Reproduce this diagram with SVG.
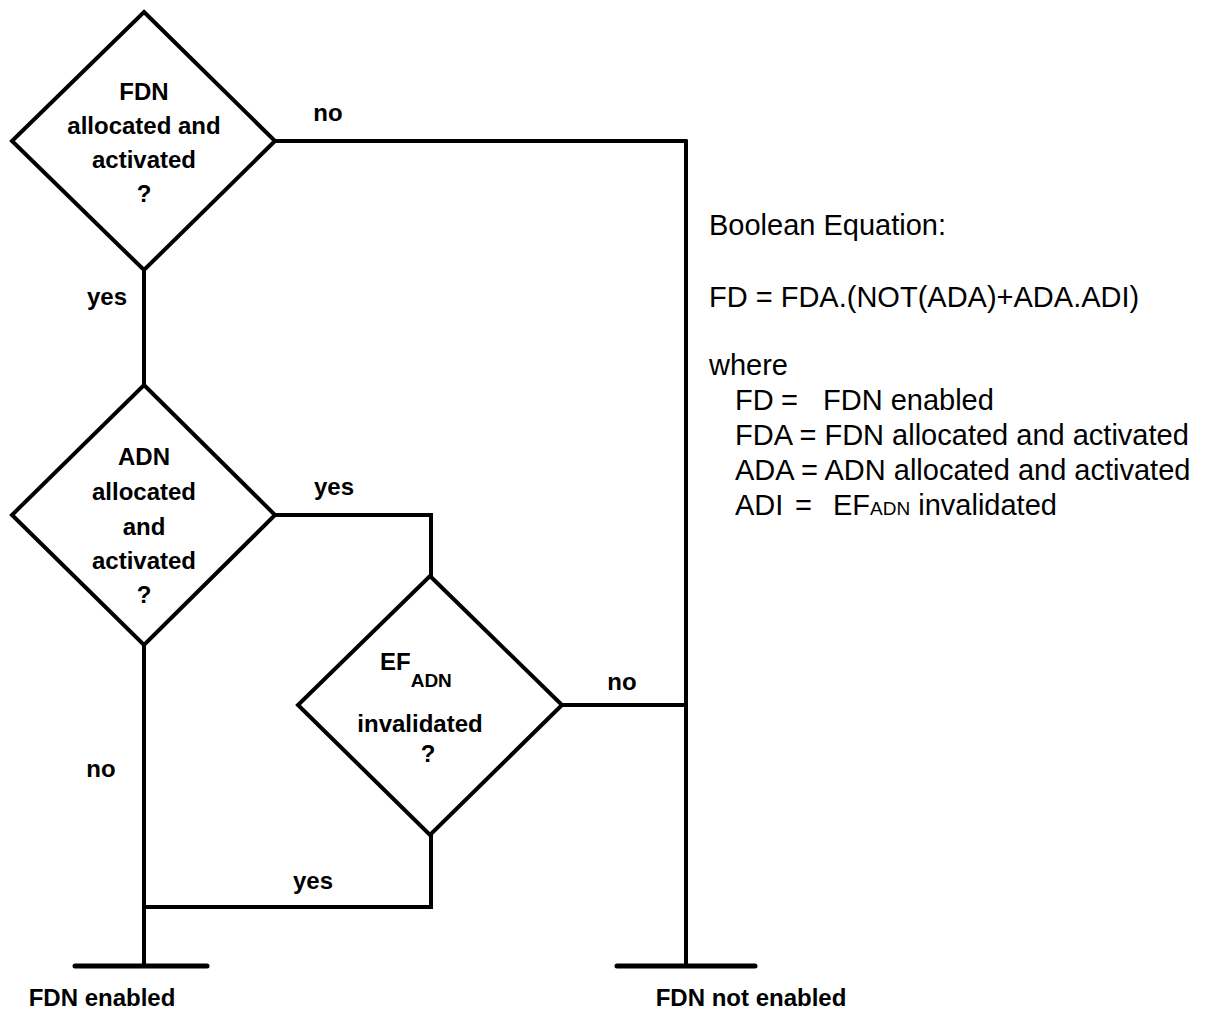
<svg xmlns="http://www.w3.org/2000/svg" width="1206" height="1012" viewBox="0 0 1206 1012">
<style>
.shape{fill:#fff;stroke:#000;stroke-width:4;stroke-linejoin:miter}
.conn{fill:none;stroke:#000;stroke-width:4;stroke-linecap:round;stroke-linejoin:miter}
.b{font-family:"Liberation Sans",Arial,sans-serif;font-weight:bold;font-size:24px;fill:#000;text-anchor:middle}
.n{font-family:"Liberation Sans",Arial,sans-serif;font-size:29px;fill:#000}
</style>
<rect width="1206" height="1012" fill="#fff"/>
<g id="connectors">
<polyline class="conn" points="275,141 686,141"/>
<polyline class="conn" points="686,141 686,966"/>
<polyline class="conn" points="144,270 144,385"/>
<polyline class="conn" points="275,515 431,515 431,577"/>
<polyline class="conn" points="563,705 686,705"/>
<polyline class="conn" points="144,645 144,966"/>
<polyline class="conn" points="431,835 431,907 144,907"/>
<polyline class="conn" points="75,966 207,966" style="stroke-width:5"/>
<polyline class="conn" points="617,966 755,966" style="stroke-width:5"/>
<text class="b" x="328" y="121">no</text>
<text class="b" x="107" y="305">yes</text>
<text class="b" x="334" y="495">yes</text>
<text class="b" x="622" y="690">no</text>
<text class="b" x="101" y="777">no</text>
<text class="b" x="313" y="889">yes</text>
</g>
<g id="d1">
<polygon class="shape" points="144,12 275,141 144,270 12,141"/>
<text class="b" x="144" y="100">FDN</text>
<text class="b" x="144" y="134">allocated and</text>
<text class="b" x="144" y="168">activated</text>
<text class="b" x="144" y="202">?</text>
</g>
<g id="d2">
<polygon class="shape" points="144,385 275,515 144,645 12,515"/>
<text class="b" x="144" y="465">ADN</text>
<text class="b" x="144" y="500">allocated</text>
<text class="b" x="144" y="535">and</text>
<text class="b" x="144" y="569">activated</text>
<text class="b" x="144" y="603">?</text>
</g>
<g id="d3">
<polygon class="shape" points="430,576 562,705 430,835 298,705"/>
<text class="b" x="380" y="670" style="text-anchor:start">EF<tspan font-size="19" dy="17">ADN</tspan></text>
<text class="b" x="420" y="732">invalidated</text>
<text class="b" x="428" y="762">?</text>
</g>
<g id="end-enabled">
<text class="b" x="102" y="1006">FDN enabled</text>
</g>
<g id="end-not-enabled">
<text class="b" x="751" y="1006">FDN not enabled</text>
</g>
<g id="equation">
<text class="n" x="709" y="235">Boolean Equation:</text>
<text class="n" x="709" y="307">FD = FDA.(NOT(ADA)+ADA.ADI)</text>
<text class="n" x="709" y="375">where</text>
<text class="n" x="735" y="410">FD</text><text class="n" x="781" y="410">=</text><text class="n" x="823" y="410">FDN enabled</text>
<text class="n" x="735" y="445">FDA = FDN allocated and activated</text>
<text class="n" x="735" y="480">ADA = ADN allocated and activated</text>
<text class="n" x="735" y="515">ADI</text><text class="n" x="795" y="515">=</text><text class="n" x="833" y="515">EF<tspan font-size="19">ADN</tspan> invalidated</text>
</g>
</svg>
